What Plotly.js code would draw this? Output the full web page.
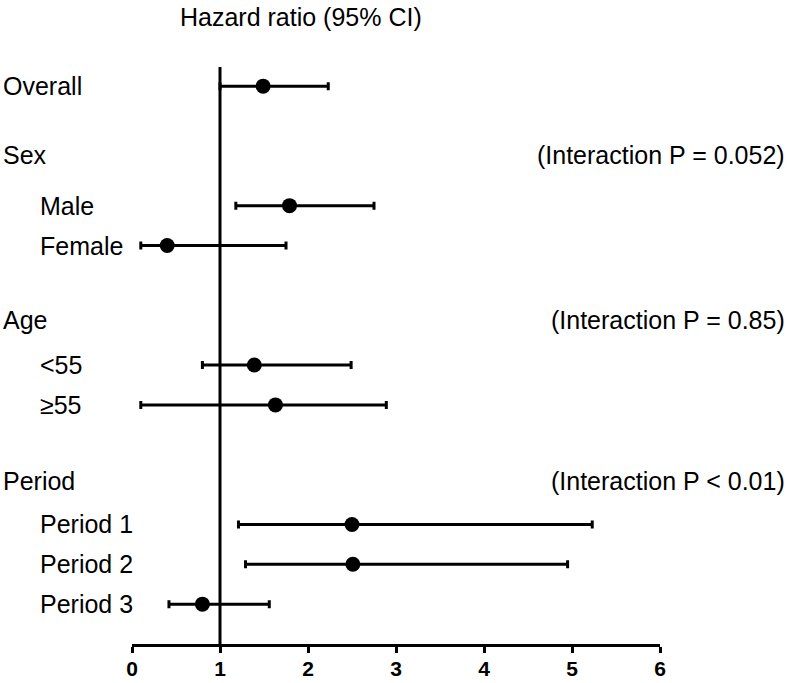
<!DOCTYPE html>
<html>
<head>
<meta charset="utf-8">
<script src="https://cdn.plot.ly/plotly-3.0.1.min.js"></script>
<style>html,body{margin:0;padding:0;background:#fff;}#chart{width:800px;height:683px;}</style>
</head>
<body>
<div id="chart"></div>
<script>
// Row layout (top to bottom); "" entries are blank spacer rows
const rowLabels = ["Overall", "", "Sex", "Male", "Female", "", "Age", "<55", "≥55", "", "Period", "Period 1", "Period 2", "Period 3"];
const rowIsHeader = [true, false, true, false, false, false, true, false, false, false, true, false, false, false];
// Estimates
const estLabels = ["Overall", "Male", "Female", "<55", "≥55", "Period 1", "Period 2", "Period 3"];
const hr    = [1.49, 1.79, 0.40, 1.39, 1.63, 2.50, 2.51, 0.80];
const lower = [1.00, 1.18, 0.10, 0.80, 0.10, 1.21, 1.29, 0.42];
const upper = [2.23, 2.75, 1.75, 2.49, 2.89, 5.23, 4.95, 1.56];
// Interaction p-values for header rows
const interactionRows = ["Sex", "Age", "Period"];
const interactionText = ["(Interaction P = 0.052)", "(Interaction P = 0.85)", "(Interaction P < 0.01)"];
const xTicks = [0, 1, 2, 3, 4, 5, 6];
const titleText = "Hazard ratio (95% CI)";

const yIdx = estLabels.map(l => rowLabels.indexOf(l));
const FONT = "Liberation Sans, Arial, sans-serif";
const FS = 25;

const trace = {
  type: "scatter",
  mode: "markers",
  x: hr,
  y: yIdx,
  marker: {color: "#000", size: 15},
  error_x: {
    type: "data", symmetric: false,
    array: upper.map((u, i) => u - hr[i]),
    arrayminus: lower.map((l, i) => hr[i] - l),
    color: "#000", thickness: 3, width: 4
  },
  hoverinfo: "skip",
  showlegend: false
};

const headerShift = {"Sex": 11, "Age": 5, "Period": 4};
const annotations = [];
rowLabels.forEach((lab, i) => {
  if (!lab) return;
  annotations.push({
    xref: "paper", yref: "y", x: rowIsHeader[i] ? -0.248 : -0.178, y: i,
    xanchor: "left", yanchor: "middle", showarrow: false,
    yshift: headerShift[lab] || 0,
    text: lab, font: {family: FONT, size: FS, color: "#000"}
  });
});
interactionRows.forEach((lab, k) => {
  const i = rowLabels.indexOf(lab);
  annotations.push({
    xref: "paper", yref: "y", x: 1.2405, y: i,
    xanchor: "right", yanchor: "middle", showarrow: false,
    yshift: headerShift[lab] || 0,
    text: interactionText[k], font: {family: FONT, size: FS, color: "#000"}
  });
});
annotations.push({
  xref: "paper", yref: "paper", x: 0.087, y: 1, yshift: 50,
  xanchor: "left", yanchor: "middle", showarrow: false,
  text: titleText, font: {family: FONT, size: FS, color: "#000"}
});

const layout = {
  width: 800, height: 683,
  margin: {l: 132, r: 140, t: 67, b: 39},
  paper_bgcolor: "#fff", plot_bgcolor: "#fff",
  xaxis: {
    range: [0, 6], tickvals: xTicks, ticktext: xTicks.map(String),
    showgrid: false, zeroline: false,
    showline: true, linecolor: "#000", linewidth: 3,
    ticks: "outside", ticklen: 6, tickwidth: 3, tickcolor: "#000",
    ticklabelstandoff: -2,
    tickfont: {family: FONT, size: 21, color: "#000", weight: "bold"},
    fixedrange: true
  },
  yaxis: {
    range: [14.0, -0.48], showgrid: false, zeroline: false,
    showticklabels: false, showline: false, ticks: "", fixedrange: true
  },
  shapes: [{
    type: "line", xref: "x", yref: "paper", x0: 1, x1: 1, y0: 0, y1: 1,
    line: {color: "#000", width: 3}
  }],
  annotations: annotations
};

Plotly.newPlot("chart", [trace], layout, {displayModeBar: false, staticPlot: true});
</script>
</body>
</html>
